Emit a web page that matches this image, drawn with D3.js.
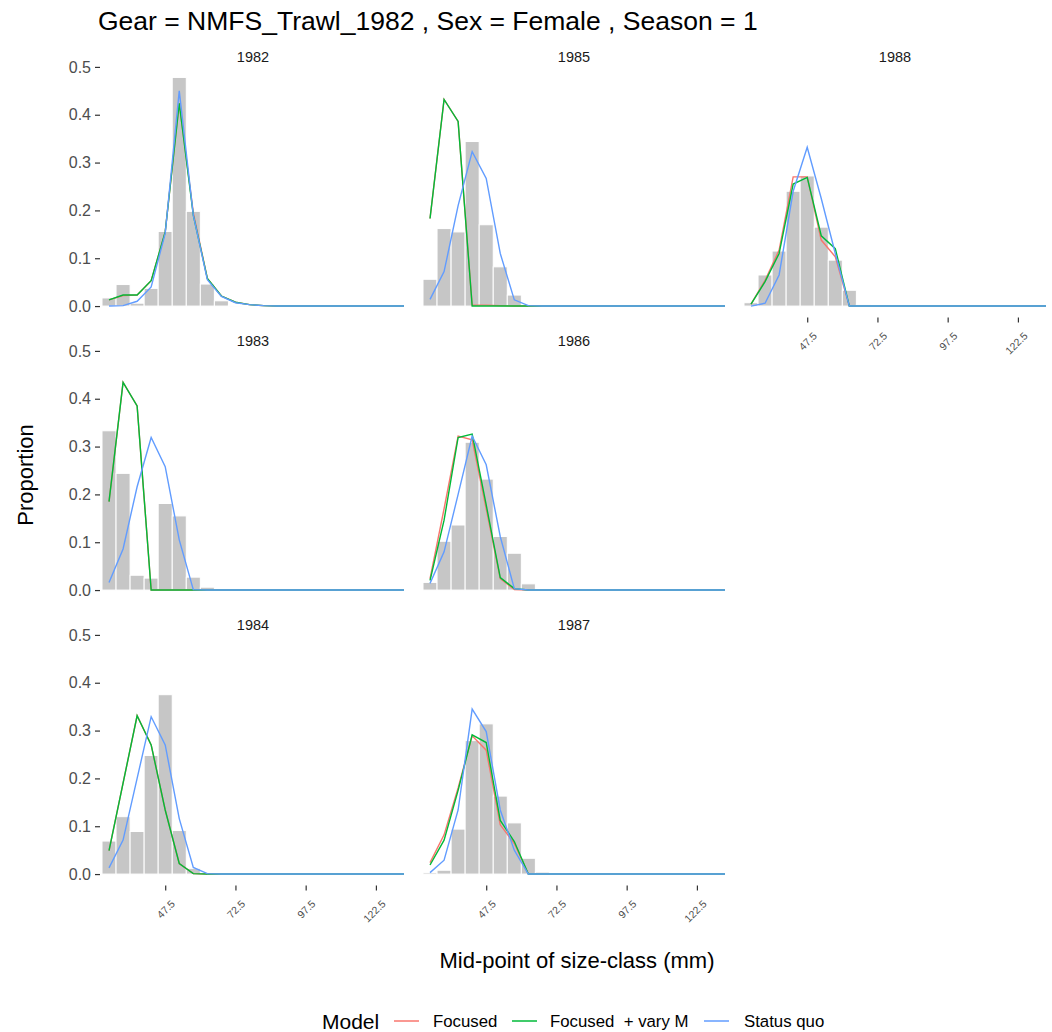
<!DOCTYPE html>
<html>
<head>
<meta charset="utf-8">
<script src="https://cdn.jsdelivr.net/npm/d3@7"></script>
<style>
  body { margin: 0; background: #fff; }
  text { font-family: "Liberation Sans", Arial, sans-serif; }
</style>
</head>
<body>
<svg id="chart"></svg>
<script>
const years = [1982, 1983, 1984, 1985, 1986, 1987, 1988];
const sizeBins = [27.5, 32.5, 37.5, 42.5, 47.5, 52.5, 57.5, 62.5, 67.5, 72.5, 77.5,
  82.5, 87.5, 92.5, 97.5, 102.5, 107.5, 112.5, 117.5, 122.5, 127.5, 132.5];
const xTicks = [47.5, 72.5, 97.5, 122.5];
const yTicks = [0, 0.1, 0.2, 0.3, 0.4, 0.5];
const models = ['Focused', 'Focused  + vary M', 'Status quo'];
const modelColors = ['#F8766D', '#00BA38', '#619CFF'];

// observed proportions, one row per year
const observed = [
  [0.017, 0.045, 0.006, 0.037, 0.156, 0.478, 0.198, 0.046, 0.011, 0.002, 0, 0, 0, 0, 0, 0, 0, 0, 0, 0, 0, 0],
  [0.333, 0.244, 0.031, 0.025, 0.181, 0.155, 0.027, 0.006, 0, 0, 0, 0, 0, 0, 0, 0, 0, 0, 0, 0, 0, 0],
  [0.069, 0.120, 0.089, 0.248, 0.375, 0.091, 0.012, 0, 0, 0, 0, 0, 0, 0, 0, 0, 0, 0, 0, 0, 0, 0],
  [0.056, 0.162, 0.155, 0.344, 0.170, 0.082, 0.023, 0.002, 0, 0, 0, 0, 0, 0, 0, 0, 0, 0, 0, 0, 0, 0],
  [0.016, 0.102, 0.136, 0.309, 0.232, 0.112, 0.077, 0.013, 0, 0, 0, 0, 0, 0, 0, 0, 0, 0, 0, 0, 0, 0],
  [0.003, 0.008, 0.094, 0.279, 0.314, 0.163, 0.107, 0.033, 0.004, 0, 0, 0, 0, 0, 0, 0, 0, 0, 0, 0, 0, 0],
  [0.007, 0.065, 0.115, 0.240, 0.272, 0.165, 0.096, 0.033, 0.003, 0, 0, 0, 0, 0, 0, 0, 0, 0, 0, 0, 0, 0]
];

const focused = [
  [0.013, 0.022, 0.023, 0.053, 0.155, 0.424, 0.195, 0.058, 0.021, 0.008, 0.003, 0.001, 0, 0, 0, 0, 0, 0, 0, 0, 0, 0],
  [0.185, 0.434, 0.385, 0, 0, 0, 0, 0, 0, 0, 0, 0, 0, 0, 0, 0, 0, 0, 0, 0, 0, 0],
  [0.049, 0.190, 0.331, 0.270, 0.134, 0.022, 0.001, 0, 0, 0, 0, 0, 0, 0, 0, 0, 0, 0, 0, 0, 0, 0],
  [0.183, 0.432, 0.386, 0.002, 0.002, 0.001, 0, 0, 0, 0, 0, 0, 0, 0, 0, 0, 0, 0, 0, 0, 0, 0],
  [0.024, 0.170, 0.322, 0.314, 0.170, 0.024, 0.001, 0, 0, 0, 0, 0, 0, 0, 0, 0, 0, 0, 0, 0, 0, 0],
  [0.024, 0.082, 0.180, 0.289, 0.259, 0.103, 0.064, 0, 0, 0, 0, 0, 0, 0, 0, 0, 0, 0, 0, 0, 0, 0],
  [0.004, 0.054, 0.117, 0.270, 0.270, 0.138, 0.103, 0, 0, 0, 0, 0, 0, 0, 0, 0, 0, 0, 0, 0, 0, 0]
];

const focusedVaryM = [
  [0.013, 0.023, 0.023, 0.053, 0.155, 0.424, 0.190, 0.058, 0.021, 0.008, 0.003, 0.001, 0, 0, 0, 0, 0, 0, 0, 0, 0, 0],
  [0.185, 0.434, 0.385, 0, 0, 0, 0, 0, 0, 0, 0, 0, 0, 0, 0, 0, 0, 0, 0, 0, 0, 0],
  [0.049, 0.190, 0.331, 0.270, 0.134, 0.022, 0.001, 0, 0, 0, 0, 0, 0, 0, 0, 0, 0, 0, 0, 0, 0, 0],
  [0.183, 0.432, 0.386, 0, 0, 0, 0, 0, 0, 0, 0, 0, 0, 0, 0, 0, 0, 0, 0, 0, 0, 0],
  [0.020, 0.146, 0.319, 0.326, 0.178, 0.026, 0.003, 0, 0, 0, 0, 0, 0, 0, 0, 0, 0, 0, 0, 0, 0, 0],
  [0.019, 0.071, 0.175, 0.291, 0.275, 0.112, 0.068, 0, 0, 0, 0, 0, 0, 0, 0, 0, 0, 0, 0, 0, 0, 0],
  [0.004, 0.051, 0.110, 0.255, 0.269, 0.147, 0.120, 0, 0, 0, 0, 0, 0, 0, 0, 0, 0, 0, 0, 0, 0, 0]
];

const statusQuo = [
  [0, 0.001, 0.010, 0.040, 0.152, 0.450, 0.190, 0.055, 0.020, 0.007, 0.003, 0.001, 0, 0, 0, 0, 0, 0, 0, 0, 0, 0],
  [0.016, 0.086, 0.216, 0.319, 0.258, 0.105, 0.001, 0, 0, 0, 0, 0, 0, 0, 0, 0, 0, 0, 0, 0, 0, 0],
  [0.013, 0.071, 0.200, 0.329, 0.270, 0.116, 0.014, 0.001, 0, 0, 0, 0, 0, 0, 0, 0, 0, 0, 0, 0, 0, 0],
  [0.014, 0.072, 0.210, 0.323, 0.267, 0.110, 0.013, 0.001, 0, 0, 0, 0, 0, 0, 0, 0, 0, 0, 0, 0, 0, 0],
  [0.014, 0.080, 0.200, 0.322, 0.262, 0.112, 0.003, 0, 0, 0, 0, 0, 0, 0, 0, 0, 0, 0, 0, 0, 0, 0],
  [0.003, 0.029, 0.134, 0.345, 0.298, 0.134, 0.050, 0, 0, 0, 0, 0, 0, 0, 0, 0, 0, 0, 0, 0, 0, 0],
  [0, 0.006, 0.065, 0.240, 0.332, 0.225, 0.110, 0, 0, 0, 0, 0, 0, 0, 0, 0, 0, 0, 0, 0, 0, 0]
];

const width = 1052, height = 1032;
const panelW = 302, panelH = 251.5;
const colLeft = [102, 423, 744];
const rowTop = [66, 350, 634];
const textGrey = '#4d4d4d';

let svg = d3.select('#chart').attr('width', width).attr('height', height);

let xScale = d3.scaleLinear().domain([25, 132.5]).range([0, panelW]);
let yScale = d3.scaleLinear().domain([-0.0239, 0.5019]).range([panelH, 0]);
let line = d3.line().x((d, i) => xScale(sizeBins[i])).y(d => yScale(d));

svg.append('text')
  .attr('x', 98).attr('y', 30)
  .style('font-size', '26.5px')
  .attr('fill', '#000')
  .text('Gear = NMFS_Trawl_1982 , Sex = Female , Season = 1');

years.forEach((year, k) => {
  let col = Math.floor(k / 3), row = k % 3;
  let g = svg.append('g')
    .attr('transform', 'translate(' + colLeft[col] + ',' + rowTop[row] + ')');

  g.append('text')
    .attr('x', panelW / 2).attr('y', -4)
    .attr('text-anchor', 'middle')
    .style('font-size', '14.5px')
    .attr('fill', '#1a1a1a')
    .text(year);

  g.selectAll('rect')
    .data(observed[k])
    .enter()
    .append('rect')
    .attr('x', (d, i) => xScale(sizeBins[i] - 2.5))
    .attr('width', xScale(30) - xScale(25))
    .attr('y', d => yScale(d))
    .attr('height', d => yScale(0) - yScale(d))
    .attr('fill', '#c6c6c6')
    .attr('stroke', '#fff')
    .attr('stroke-width', 1);

  [focused, focusedVaryM, statusQuo].forEach((series, m) => {
    g.append('path')
      .datum(series[k])
      .attr('d', line)
      .attr('fill', 'none')
      .attr('stroke', modelColors[m])
      .attr('stroke-width', 1.4);
  });

  if (col === 0) {
    let yAxis = g.append('g')
      .attr('transform', 'translate(-2,0)')
      .call(d3.axisLeft(yScale).tickValues(yTicks).tickFormat(d3.format('.1f')).tickSize(5).tickPadding(4));
    yAxis.select('.domain').remove();
    yAxis.selectAll('line').attr('stroke', '#333').attr('stroke-width', 1.2);
    yAxis.selectAll('text').attr('fill', textGrey).style('font-size', '16px')
      .style('font-family', '"Liberation Sans", Arial, sans-serif');
  }

  let isBottom = (col < 2 && row === 2) || col === 2;
  if (isBottom) {
    let xAxis = g.append('g')
      .attr('transform', 'translate(0,' + panelH + ')')
      .call(d3.axisBottom(xScale).tickValues(xTicks).tickFormat(d3.format('.1f')).tickSize(5));
    xAxis.select('.domain').remove();
    xAxis.selectAll('line').attr('stroke', '#333').attr('stroke-width', 1.2);
    xAxis.selectAll('text')
      .attr('fill', textGrey)
      .style('font-size', '10.5px')
      .style('font-family', '"Liberation Sans", Arial, sans-serif')
      .attr('text-anchor', 'end')
      .attr('dy', null)
      .attr('y', 0)
      .attr('transform', 'translate(10,19) rotate(-45)');
  }
});

svg.append('text')
  .attr('transform', 'translate(33,475) rotate(-90)')
  .attr('text-anchor', 'middle')
  .style('font-size', '22px')
  .text('Proportion');

svg.append('text')
  .attr('x', 577).attr('y', 968)
  .attr('text-anchor', 'middle')
  .style('font-size', '22px')
  .text('Mid-point of size-class (mm)');

let legend = svg.append('g').attr('transform', 'translate(0,1021)');
legend.append('text')
  .attr('x', 322).attr('y', 8)
  .style('font-size', '21px')
  .text('Model');

const keyX = [394, 512, 704];
const labelX = [433, 550, 744];
models.forEach((name, m) => {
  legend.append('line')
    .attr('x1', keyX[m]).attr('x2', keyX[m] + 25)
    .attr('y1', 0).attr('y2', 0)
    .attr('stroke', modelColors[m])
    .attr('stroke-opacity', 0.75)
    .attr('stroke-width', 2);
  legend.append('text')
    .attr('x', labelX[m]).attr('y', 6)
    .style('font-size', '16.8px')
    .style('white-space', 'pre')
    .text(name);
});
</script>
</body>
</html>
